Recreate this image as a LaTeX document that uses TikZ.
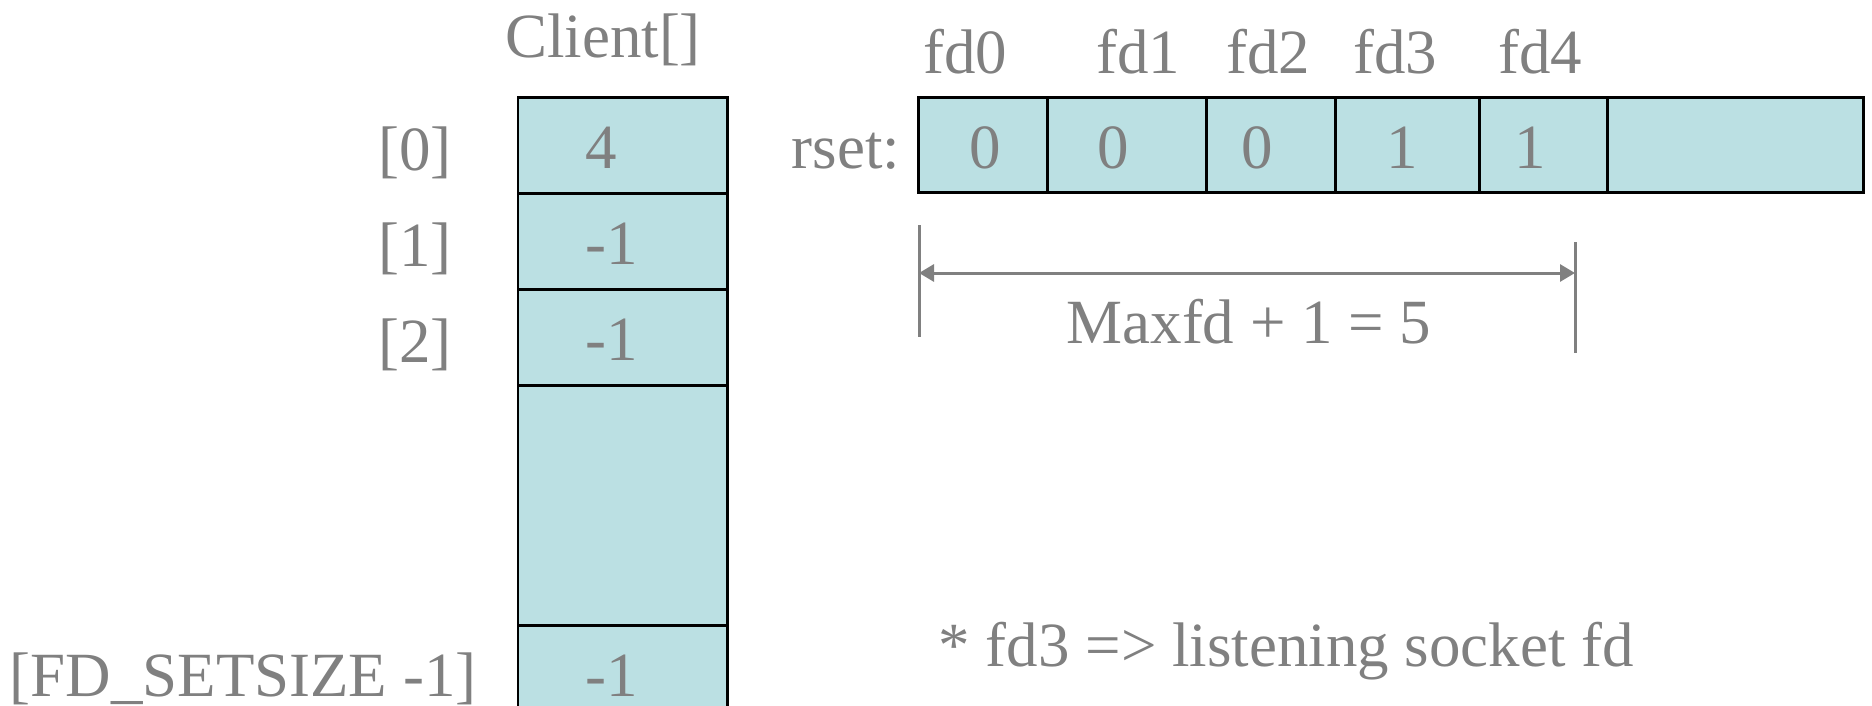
\documentclass[tikz,border=0pt]{standalone}
\usepackage{fontspec}
\setmainfont{Liberation Serif}
\usepackage{tikz}
\usetikzlibrary{positioning,arrows.meta}

\definecolor{txtgray}{RGB}{128,128,128}
\definecolor{cellfill}{RGB}{187,224,227}

\begin{document}
\begin{tikzpicture}[x=0.01cm, y=-0.01cm,
  cell/.style={rectangle, draw=black, line width=0.85pt, fill=cellfill,
    inner sep=0, outer sep=0, minimum width=2.09cm, minimum height=0.96cm},
  rcell/.style={cell, minimum height=0.95cm, minimum width=#1},
  txt/.style={text=txtgray, inner sep=0, anchor=base,
    font=\fontsize{17.9}{21}\selectfont},
  dim/.style={draw=txtgray, line width=0.85pt}]

\useasboundingbox (0,0) rectangle (1872,705);

% client array %
\node[cell, anchor=north west] (c0) at (518,97) {};
\node[cell, below = 0 of c0] (c1) {};
\node[cell, below = 0 of c1] (c2) {};
\node[cell, below = 0 of c2, minimum height=2.40cm] (cgap) {};
\node[cell, below = 0 of cgap] (cn) {};

\node[txt] (client) at (603,57) {Client[]};

\node[txt, anchor=base west] (v0) at (585,168) {4};
\node[txt, anchor=base west] (v1) at (585,264) {-1};
\node[txt, anchor=base west] (v2) at (585,360) {-1};
\node[txt, anchor=base west] (vn) at (585,696) {-1};

\node[txt] (i0) at (415,170) {[0]};
\node[txt] (i1) at (415,266) {[1]};
\node[txt] (i2) at (415,362) {[2]};
\node[txt, anchor=base west] (in) at (9,696) {[FD\_SETSIZE -1]};

% rset %
\node[rcell=1.29cm, anchor=north west] (r0) at (918,97) {};
\node[rcell=1.59cm, right = 0 of r0] (r1) {};
\node[rcell=1.29cm, right = 0 of r1] (r2) {};
\node[rcell=1.44cm, right = 0 of r2] (r3) {};
\node[rcell=1.28cm, right = 0 of r3] (r4) {};
\node[rcell=2.56cm, right = 0 of r4] (r5) {};

\node[txt, anchor=base west] (rset) at (791,168) {rset:};

\node[txt] (b0) at (985,168) {0};
\node[txt] (b1) at (1113,168) {0};
\node[txt] (b2) at (1257,168) {0};
\node[txt] (b3) at (1402,168) {1};
\node[txt] (b4) at (1530,168) {1};

\node[txt] (fd0) at (965,73) {fd0};
\node[txt] (fd1) at (1138,73) {fd1};
\node[txt] (fd2) at (1268,73) {fd2};
\node[txt] (fd3) at (1395,73) {fd3};
\node[txt] (fd4) at (1540,73) {fd4};

% maxfd span %
\coordinate (lt) at (919,225);
\coordinate (lb) at (919,337);
\coordinate (rt) at (1575,242);
\coordinate (rb) at (1575,353);
\coordinate (dl) at (919,273);
\coordinate (dr) at (1575,273);

\draw[dim] (lt) -- (lb);
\draw[dim] (rt) -- (rb);
\draw[dim, {Triangle[length=0.15cm,width=0.17cm]}-{Triangle[length=0.15cm,width=0.17cm]}] (dl) -- (dr);

\node[txt] (maxfd) at (1249,343) {Maxfd + 1 = 5};

% note %
\node[txt, anchor=base west] (note) at (938,666) {* fd3 => listening socket fd};

\end{tikzpicture}
\end{document}
